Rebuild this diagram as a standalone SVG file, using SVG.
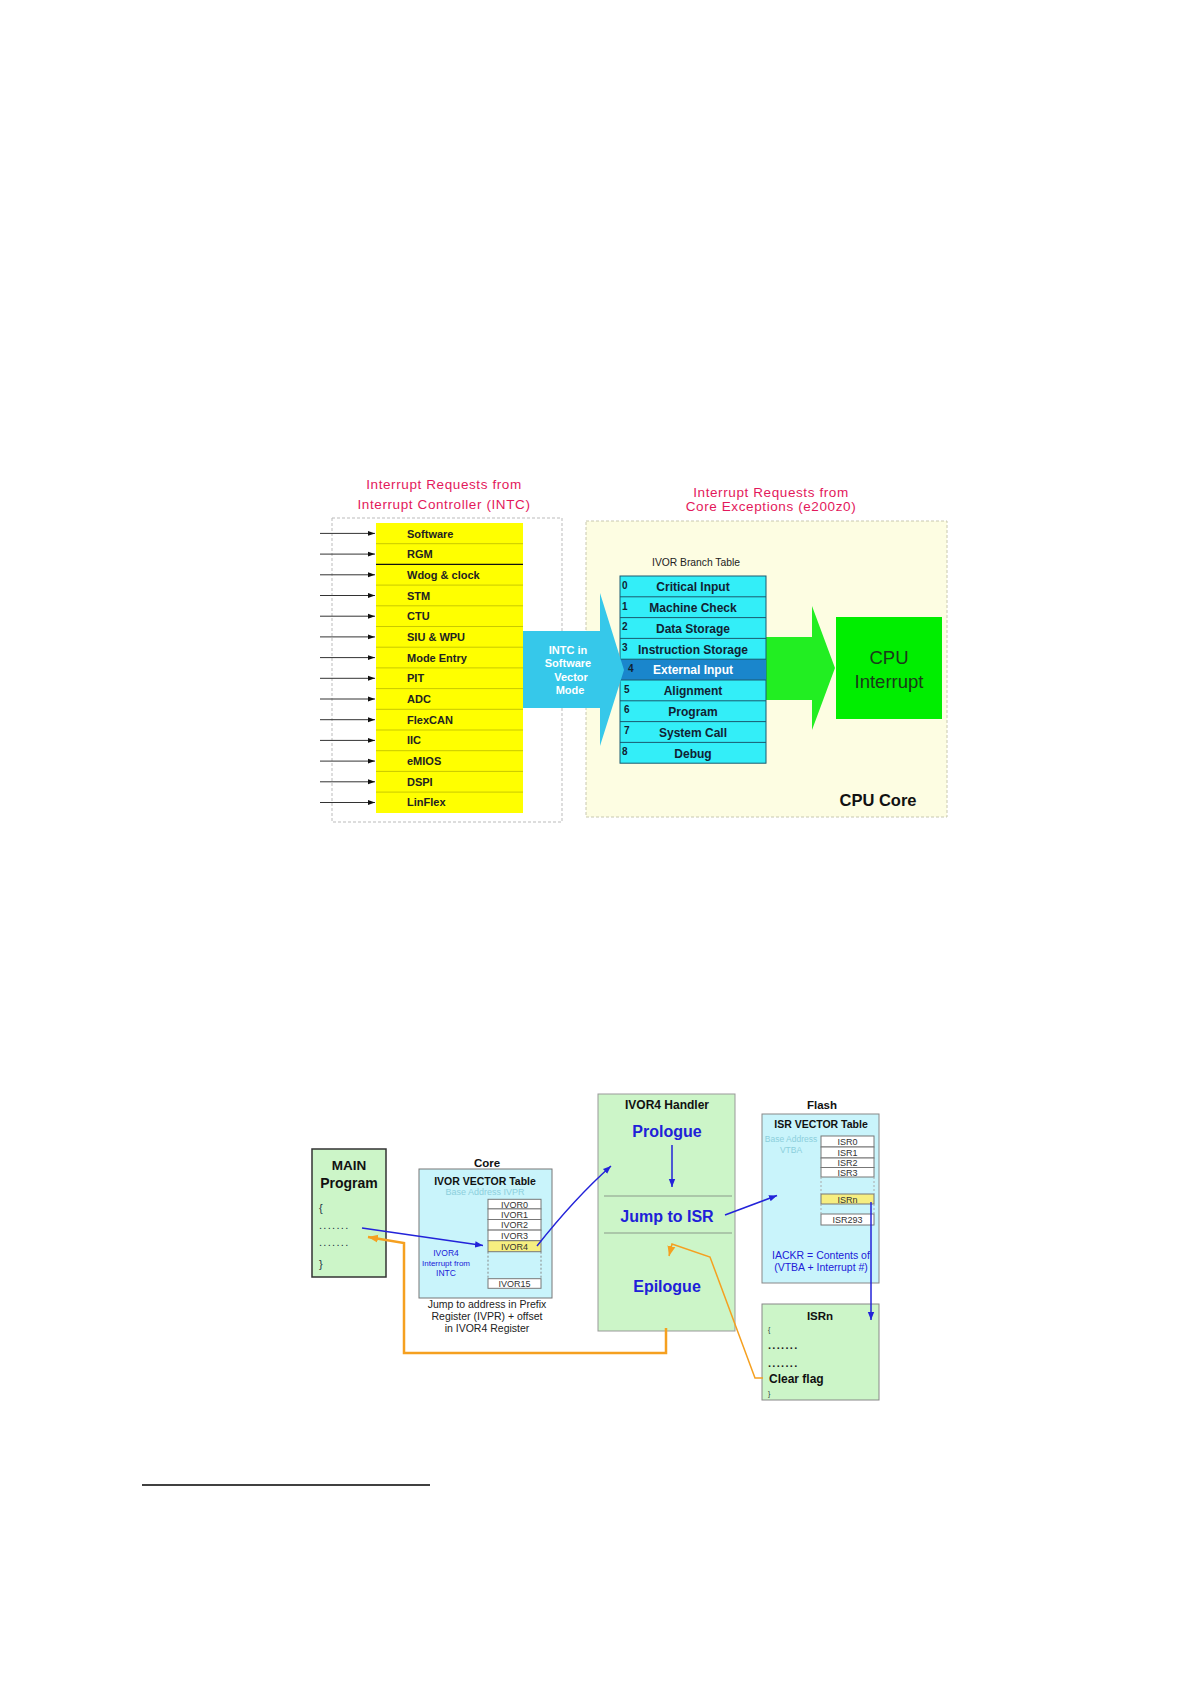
<svg xmlns="http://www.w3.org/2000/svg" width="1191" height="1684" viewBox="0 0 1191 1684">
<defs>
<style>
text{font-family:"Liberation Sans",Arial,sans-serif}
.title{font-size:13.5px;fill:#e3185b;text-anchor:middle;letter-spacing:0.6px}
.ylab{font-size:11px;font-weight:bold;fill:#222}
.trow{font-size:12px;font-weight:bold;fill:#123;text-anchor:middle}
.num{font-size:10px;font-weight:bold;fill:#123}
.c{text-anchor:middle}
.b{font-weight:bold}
.blue{fill:#2020d8}
.teal{fill:#8ccfdc}
.ent{font-size:9px;fill:#333;text-anchor:middle}
.ward{stroke:#333;stroke-width:1;fill:none}
.bl{stroke:#2323d9;stroke-width:1.5;fill:none}
.or{stroke:#f5a020;fill:none}
.box{fill:#ccf5c8}
.dots{letter-spacing:1.3px}
</style>
<marker id="ak" viewBox="0 0 10 10" refX="10" refY="5" markerWidth="7" markerHeight="7" orient="auto" markerUnits="userSpaceOnUse"><path d="M0,1.5L10,5L0,8.5z" fill="#111"/></marker>
<marker id="ab" viewBox="0 0 10 10" refX="10" refY="5" markerWidth="8" markerHeight="8" orient="auto" markerUnits="userSpaceOnUse"><path d="M0,1L10,5L0,9z" fill="#2323d9"/></marker>
<marker id="ao" viewBox="0 0 10 10" refX="10" refY="5" markerWidth="10" markerHeight="10" orient="auto" markerUnits="userSpaceOnUse"><path d="M0,1L10,5L0,9z" fill="#f5a020"/></marker>
</defs>
<rect width="1191" height="1684" fill="#fff"/>

<!-- ===== Upper diagram ===== -->
<g id="intc-title">
<text class="title" x="444" y="489">Interrupt Requests from</text>
<text class="title" x="444" y="509">Interrupt Controller (INTC)</text>
</g>
<g id="core-title">
<text class="title" x="771" y="497">Interrupt Requests from</text>
<text class="title" x="771" y="511">Core Exceptions (e200z0)</text>
</g>

<g id="intc-box">
<rect x="332" y="518" width="230" height="304" fill="#fff" stroke="#bbb" stroke-width="1" stroke-dasharray="3,2"/>
</g>

<g id="intc-sources">
<rect x="376" y="523" width="147" height="290" fill="#ffff00"/>
<g stroke="#c9c900" stroke-width="1">
<line x1="376" y1="543.7" x2="523" y2="543.7"/>
<line x1="376" y1="585.1" x2="523" y2="585.1"/>
<line x1="376" y1="605.8" x2="523" y2="605.8"/>
<line x1="376" y1="626.5" x2="523" y2="626.5"/>
<line x1="376" y1="647.2" x2="523" y2="647.2"/>
<line x1="376" y1="667.9" x2="523" y2="667.9"/>
<line x1="376" y1="688.6" x2="523" y2="688.6"/>
<line x1="376" y1="709.3" x2="523" y2="709.3"/>
<line x1="376" y1="730" x2="523" y2="730"/>
<line x1="376" y1="750.7" x2="523" y2="750.7"/>
<line x1="376" y1="771.4" x2="523" y2="771.4"/>
<line x1="376" y1="792.1" x2="523" y2="792.1"/>
</g>
<line x1="376" y1="564.4" x2="523" y2="564.4" stroke="#111" stroke-width="1.2"/>
<text class="ylab" x="407" y="537.5">Software</text>
<text class="ylab" x="407" y="558">RGM</text>
<text class="ylab" x="407" y="579">Wdog &amp; clock</text>
<text class="ylab" x="407" y="599.5">STM</text>
<text class="ylab" x="407" y="620">CTU</text>
<text class="ylab" x="407" y="641">SIU &amp; WPU</text>
<text class="ylab" x="407" y="661.5">Mode Entry</text>
<text class="ylab" x="407" y="682">PIT</text>
<text class="ylab" x="407" y="703">ADC</text>
<text class="ylab" x="407" y="723.5">FlexCAN</text>
<text class="ylab" x="407" y="744">IIC</text>
<text class="ylab" x="407" y="765">eMIOS</text>
<text class="ylab" x="407" y="785.5">DSPI</text>
<text class="ylab" x="407" y="806">LinFlex</text>
</g>

<g id="cpu-core">
<rect x="586" y="521" width="361" height="296" fill="#fdfde2" stroke="#c8c8b0" stroke-width="1" stroke-dasharray="3,2"/>
<text x="878" y="806" class="c b" font-size="16.5px" fill="#111">CPU Core</text>
</g>

<g id="green-arrow">
<polygon points="760,637 812,637 812,606 835,668 812,730 812,700 760,700" fill="#22ee22"/>
</g>

<g id="ivor-branch-table">
<text x="696" y="566" class="c" font-size="10.3px" fill="#222">IVOR Branch Table</text>
<rect x="620" y="576" width="146" height="187.2" fill="#33eef8" stroke="#1a5a70" stroke-width="1"/>
<rect x="620" y="659.2" width="146" height="20.8" fill="#1a86cc"/>
<g stroke="#1a5a70" stroke-width="1">
<line x1="620" y1="596.8" x2="766" y2="596.8"/>
<line x1="620" y1="617.6" x2="766" y2="617.6"/>
<line x1="620" y1="638.4" x2="766" y2="638.4"/>
<line x1="620" y1="659.2" x2="766" y2="659.2"/>
<line x1="620" y1="680" x2="766" y2="680"/>
<line x1="620" y1="700.8" x2="766" y2="700.8"/>
<line x1="620" y1="721.6" x2="766" y2="721.6"/>
<line x1="620" y1="742.4" x2="766" y2="742.4"/>
</g>
</g>

<g id="intc-arrow">
<polygon points="523,631 600,631 600,593 624,670 600,746 600,708 523,708" fill="#36c8ea"/>
<g fill="#fff" font-size="11px" font-weight="bold" text-anchor="middle">
<text x="568" y="654">INTC in</text>
<text x="568" y="667">Software</text>
<text x="571" y="681">Vector</text>
<text x="570" y="694">Mode</text>
</g>
</g>

<g id="ivor-rows">
<text class="num" x="622" y="589">0</text>
<text class="trow" x="693" y="591">Critical Input</text>
<text class="num" x="622" y="610">1</text>
<text class="trow" x="693" y="612">Machine Check</text>
<text class="num" x="622" y="630">2</text>
<text class="trow" x="693" y="633">Data Storage</text>
<text class="num" x="622" y="651">3</text>
<text class="trow" x="693" y="653.5">Instruction Storage</text>
<text class="num" x="628" y="672">4</text>
<text class="trow" x="693" y="674" style="fill:#fff">External Input</text>
<text class="num" x="624" y="693">5</text>
<text class="trow" x="693" y="695">Alignment</text>
<text class="num" x="624" y="713">6</text>
<text class="trow" x="693" y="716">Program</text>
<text class="num" x="624" y="734">7</text>
<text class="trow" x="693" y="737">System Call</text>
<text class="num" x="622" y="755">8</text>
<text class="trow" x="693" y="757.5">Debug</text>
</g>

<g id="cpu-interrupt">
<rect x="836" y="617" width="106" height="102" fill="#00ee00"/>
<text x="889" y="664" class="c" font-size="18.5px" fill="#1a3a1a">CPU</text>
<text x="889" y="688" class="c" font-size="18.5px" fill="#1a3a1a">Interrupt</text>
</g>

<g id="request-arrows">
<line class="ward" x1="320" y1="533.4" x2="375" y2="533.4" marker-end="url(#ak)"/>
<line class="ward" x1="320" y1="554.1" x2="375" y2="554.1" marker-end="url(#ak)"/>
<line class="ward" x1="320" y1="574.8" x2="375" y2="574.8" marker-end="url(#ak)"/>
<line class="ward" x1="320" y1="595.5" x2="375" y2="595.5" marker-end="url(#ak)"/>
<line class="ward" x1="320" y1="616.2" x2="375" y2="616.2" marker-end="url(#ak)"/>
<line class="ward" x1="320" y1="636.9" x2="375" y2="636.9" marker-end="url(#ak)"/>
<line class="ward" x1="320" y1="657.6" x2="375" y2="657.6" marker-end="url(#ak)"/>
<line class="ward" x1="320" y1="678.3" x2="375" y2="678.3" marker-end="url(#ak)"/>
<line class="ward" x1="320" y1="699" x2="375" y2="699" marker-end="url(#ak)"/>
<line class="ward" x1="320" y1="719.7" x2="375" y2="719.7" marker-end="url(#ak)"/>
<line class="ward" x1="320" y1="740.4" x2="375" y2="740.4" marker-end="url(#ak)"/>
<line class="ward" x1="320" y1="761.1" x2="375" y2="761.1" marker-end="url(#ak)"/>
<line class="ward" x1="320" y1="781.8" x2="375" y2="781.8" marker-end="url(#ak)"/>
<line class="ward" x1="320" y1="802.5" x2="375" y2="802.5" marker-end="url(#ak)"/>
</g>

<!-- ===== Lower diagram ===== -->
<g id="main-program">
<rect class="box" x="312" y="1149" width="74" height="128" stroke="#333" stroke-width="1.5"/>
<text x="349" y="1170" class="c b" font-size="13.5px" fill="#111">MAIN</text>
<text x="349" y="1188" class="c b" font-size="14px" fill="#111">Program</text>
<text x="319" y="1212" font-size="11px" fill="#234">{</text>
<text x="319" y="1229" font-size="11px" fill="#234" class="dots">.......</text>
<text x="319" y="1246" font-size="11px" fill="#234" class="dots">.......</text>
<text x="319" y="1268" font-size="11px" fill="#234">}</text>
</g>

<g id="ivor-vector-table">
<text x="487" y="1167" class="c b" font-size="11.5px" fill="#111">Core</text>
<rect x="419" y="1169" width="133" height="129" fill="#c9f4fb" stroke="#777" stroke-width="1"/>
<text x="485" y="1185" class="c b" font-size="10.5px" fill="#111">IVOR VECTOR Table</text>
<text x="485" y="1195" class="c teal" font-size="9px">Base Address IVPR</text>
<g fill="#fff" stroke="#777" stroke-width="1">
<rect x="488" y="1199.3" width="53" height="9.6"/>
<rect x="488" y="1208.9" width="53" height="10.6"/>
<rect x="488" y="1219.5" width="53" height="10.6"/>
<rect x="488" y="1230.1" width="53" height="10.6"/>
<rect x="488" y="1240.7" width="53" height="11" fill="#f6ee80"/>
<rect x="488" y="1278.7" width="53" height="9.6"/>
</g>
<path d="M488,1251.7V1278.7M541,1251.7V1278.7" stroke="#888" stroke-width="1" stroke-dasharray="2,2" fill="none"/>
<text class="ent" x="514.5" y="1207.5">IVOR0</text>
<text class="ent" x="514.5" y="1217.5">IVOR1</text>
<text class="ent" x="514.5" y="1228">IVOR2</text>
<text class="ent" x="514.5" y="1238.5">IVOR3</text>
<text class="ent" x="514.5" y="1249.5">IVOR4</text>
<text class="ent" x="514.5" y="1287">IVOR15</text>
<text x="446" y="1256" class="c blue" font-size="8.5px">IVOR4</text>
<text x="446" y="1266" class="c blue" font-size="8px">Interrupt from</text>
<text x="446" y="1276" class="c blue" font-size="8.5px">INTC</text>
<text x="487" y="1308" class="c" font-size="10.5px" fill="#222">Jump to address in Prefix</text>
<text x="487" y="1320" class="c" font-size="10.5px" fill="#222">Register (IVPR) + offset</text>
<text x="487" y="1332" class="c" font-size="10.5px" fill="#222">in IVOR4 Register</text>
</g>

<g id="ivor4-handler">
<rect class="box" x="598" y="1094" width="137" height="237" stroke="#999" stroke-width="1"/>
<text x="667" y="1109" class="c b" font-size="12px" fill="#111">IVOR4 Handler</text>
<text x="667" y="1137" class="c b blue" font-size="16px">Prologue</text>
<line x1="604" y1="1196" x2="732" y2="1196" stroke="#8a9a8a" stroke-width="1.2"/>
<text x="667" y="1222" class="c b blue" font-size="16px">Jump to ISR</text>
<line x1="604" y1="1233" x2="732" y2="1233" stroke="#8a9a8a" stroke-width="1.2"/>
<text x="667" y="1292" class="c b blue" font-size="16px">Epilogue</text>
</g>

<g id="isr-vector-table">
<text x="822" y="1109" class="c b" font-size="11.5px" fill="#111">Flash</text>
<rect x="762" y="1114" width="117" height="169" fill="#c9f4fb" stroke="#888" stroke-width="1"/>
<text x="821" y="1128" class="c b" font-size="10.5px" fill="#111">ISR VECTOR Table</text>
<text x="791" y="1142" class="c teal" font-size="8.5px">Base Address</text>
<text x="791" y="1153" class="c teal" font-size="8.5px">VTBA</text>
<g fill="#fff" stroke="#777" stroke-width="1">
<rect x="821" y="1136" width="53" height="11"/>
<rect x="821" y="1147" width="53" height="11"/>
<rect x="821" y="1158" width="53" height="9.5"/>
<rect x="821" y="1167.5" width="53" height="9.5"/>
<rect x="821" y="1194" width="53" height="10" fill="#f6ee80"/>
<rect x="821" y="1214" width="53" height="11"/>
</g>
<path d="M821,1177V1194M874,1177V1194M821,1204V1214M874,1204V1214" stroke="#aaa" stroke-width="1" stroke-dasharray="2,2" fill="none"/>
<text class="ent" x="847.5" y="1145">ISR0</text>
<text class="ent" x="847.5" y="1156">ISR1</text>
<text class="ent" x="847.5" y="1166">ISR2</text>
<text class="ent" x="847.5" y="1175.5">ISR3</text>
<text class="ent" x="847.5" y="1202.5">ISRn</text>
<text class="ent" x="847.5" y="1223">ISR293</text>
<text x="821" y="1259" class="c blue" font-size="10.5px">IACKR = Contents of</text>
<text x="821" y="1271" class="c blue" font-size="10.5px">(VTBA + Interrupt #)</text>
</g>

<g id="isrn">
<rect class="box" x="762" y="1304" width="117" height="96" stroke="#888" stroke-width="1"/>
<text x="820" y="1320" class="c b" font-size="11.5px" fill="#111">ISRn</text>
<text x="768" y="1332" font-size="7px" fill="#333">{</text>
<text x="768" y="1349" font-size="11px" font-weight="bold" fill="#222" class="dots">.......</text>
<text x="768" y="1367" font-size="11px" font-weight="bold" fill="#222" class="dots">.......</text>
<text x="769" y="1383" font-size="12px" font-weight="bold" fill="#111">Clear flag</text>
<text x="768" y="1396" font-size="7px" fill="#333">}</text>
</g>

<g id="connectors">
<line class="bl" x1="362" y1="1228" x2="483" y2="1245.5" marker-end="url(#ab)"/>
<path class="bl" d="M537,1246Q575,1198 611,1166" marker-end="url(#ab)"/>
<line class="bl" x1="672" y1="1145" x2="672" y2="1187" marker-end="url(#ab)"/>
<line class="bl" x1="725" y1="1215" x2="777" y2="1195.5" marker-end="url(#ab)"/>
<line class="bl" x1="871" y1="1202" x2="871" y2="1320" marker-end="url(#ab)"/>
<path class="or" stroke-width="2.5" d="M666,1328V1353H404V1243L368,1237" marker-end="url(#ao)"/>
<path class="or" stroke-width="1.5" d="M763,1378H755L710,1257L672,1244L669,1256" marker-end="url(#ao)"/>
</g>

<line id="footnote-rule" x1="142" y1="1485" x2="430" y2="1485" stroke="#000" stroke-width="1.6"/>
</svg>
